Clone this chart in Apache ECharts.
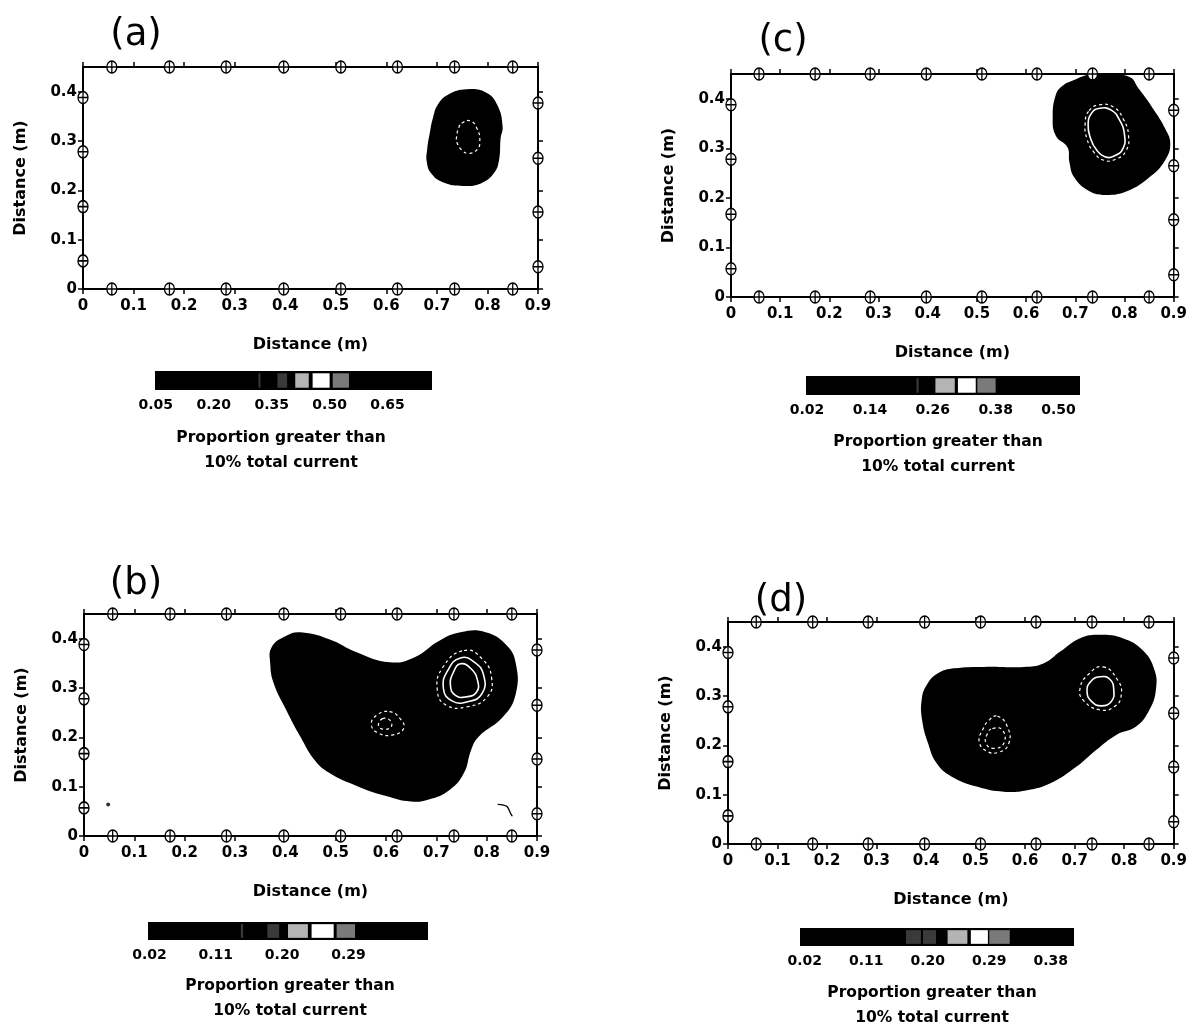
<!DOCTYPE html>
<html>
<head>
<meta charset="utf-8">
<script src="https://cdn.jsdelivr.net/npm/echarts@6/dist/echarts.min.js"></script>
<style>
  html, body { margin: 0; background: #fff; }
  #chart { width: 1190px; height: 1029px; }
</style>
</head>
<body>
<div id="chart"></div>
<script>
// ---- tick labels ----
var xTicks = [0, 0.1, 0.2, 0.3, 0.4, 0.5, 0.6, 0.7, 0.8, 0.9];
var yTicks = [0, 0.1, 0.2, 0.3, 0.4];

// ---- electrode positions (m) ----
var electrodeX = [0.057, 0.171, 0.283, 0.397, 0.510, 0.622, 0.735, 0.850];
var electrodeLeftY = [0.388, 0.278, 0.167, 0.057];
var electrodeRightY = [0.377, 0.265, 0.156, 0.045];

// ---- (a) outline of region > 0.05 and inner contour ----
var blobA = [[0.759, 0.405], [0.722, 0.394], [0.702, 0.374], [0.692, 0.346], [0.686, 0.316],
  [0.681, 0.285], [0.680, 0.258], [0.689, 0.234], [0.713, 0.216], [0.752, 0.209], [0.787, 0.214],
  [0.813, 0.235], [0.823, 0.262], [0.826, 0.305], [0.830, 0.330], [0.820, 0.372], [0.798, 0.398]];
var ringA = [[0.749, 0.336], [0.765, 0.341], [0.779, 0.326], [0.785, 0.299], [0.779, 0.282],
  [0.762, 0.275], [0.749, 0.282], [0.740, 0.296], [0.739, 0.309], [0.744, 0.329]];

// ---- (c) ----
var blobC = [[0.660, 0.407], [0.654, 0.366], [0.660, 0.326], [0.684, 0.302], [0.688, 0.272],
  [0.698, 0.241], [0.728, 0.214], [0.762, 0.206], [0.806, 0.214], [0.850, 0.241],
  [0.882, 0.275], [0.893, 0.309], [0.883, 0.339], [0.858, 0.380], [0.829, 0.420],
  [0.808, 0.445], [0.737, 0.450], [0.695, 0.437], [0.671, 0.424]];
var ringC = [[0.733, 0.371], [0.750, 0.381], [0.773, 0.377], [0.790, 0.357], [0.800, 0.327],
  [0.797, 0.300], [0.780, 0.285], [0.760, 0.283], [0.743, 0.297], [0.731, 0.320], [0.726, 0.347]];
var ringC2 = [[0.728, 0.376], [0.750, 0.388], [0.778, 0.383], [0.797, 0.360], [0.808, 0.327],
  [0.803, 0.295], [0.782, 0.278], [0.758, 0.276], [0.738, 0.292], [0.724, 0.318], [0.720, 0.350]];

// ---- (b) ----
var blobB = [[0.373, 0.383], [0.402, 0.406], [0.430, 0.413], [0.487, 0.399], [0.543, 0.372],
  [0.607, 0.352], [0.656, 0.362], [0.706, 0.396], [0.748, 0.413], [0.798, 0.413],
  [0.840, 0.386], [0.858, 0.349], [0.858, 0.289], [0.833, 0.242], [0.784, 0.201],
  [0.769, 0.174], [0.755, 0.128], [0.727, 0.094], [0.685, 0.074], [0.649, 0.070],
  [0.600, 0.081], [0.543, 0.101], [0.487, 0.128], [0.458, 0.154], [0.430, 0.201],
  [0.402, 0.255], [0.377, 0.309], [0.370, 0.349]];
var ringB1 = [[0.748, 0.349], [0.769, 0.339], [0.782, 0.315], [0.780, 0.292], [0.759, 0.282],
  [0.738, 0.285], [0.728, 0.305], [0.734, 0.332]];
var ringB2 = [[0.748, 0.361], [0.776, 0.352], [0.794, 0.326], [0.791, 0.289], [0.762, 0.272],
  [0.731, 0.274], [0.714, 0.299], [0.723, 0.336]];
var ringB3 = [[0.755, 0.376], [0.791, 0.359], [0.810, 0.319], [0.801, 0.282], [0.762, 0.262],
  [0.720, 0.265], [0.702, 0.295], [0.713, 0.342]];
var ringB4 = [[0.607, 0.252], [0.628, 0.238], [0.635, 0.218], [0.614, 0.205], [0.586, 0.208],
  [0.571, 0.225], [0.582, 0.245]];
var ringB5 = [[0.593, 0.238], [0.610, 0.232], [0.607, 0.218], [0.586, 0.221]];
var speckB = [[0.048, 0.064]];
var squiggleB = [[0.822, 0.064], [0.840, 0.060], [0.847, 0.047], [0.851, 0.040]];

// ---- (d) ----
var blobD = [[0.391, 0.292], [0.401, 0.322], [0.424, 0.346], [0.457, 0.356], [0.517, 0.359],
  [0.597, 0.359], [0.637, 0.366], [0.671, 0.390], [0.711, 0.417], [0.751, 0.424],
  [0.797, 0.417], [0.837, 0.393], [0.861, 0.353], [0.864, 0.312], [0.851, 0.272],
  [0.824, 0.238], [0.784, 0.221], [0.744, 0.191], [0.704, 0.157], [0.651, 0.123],
  [0.604, 0.109], [0.557, 0.106], [0.504, 0.116], [0.451, 0.137], [0.421, 0.164],
  [0.404, 0.204], [0.392, 0.251]];
var ringD1 = [[0.751, 0.339], [0.771, 0.334], [0.779, 0.312], [0.774, 0.289], [0.754, 0.280],
  [0.734, 0.289], [0.725, 0.309], [0.732, 0.329]];
var ringD2 = [[0.757, 0.359], [0.787, 0.332], [0.794, 0.302], [0.781, 0.279], [0.751, 0.272],
  [0.717, 0.292], [0.711, 0.316], [0.727, 0.343]];
var ringD3 = [[0.544, 0.259], [0.564, 0.238], [0.567, 0.204], [0.547, 0.186], [0.521, 0.189],
  [0.507, 0.209], [0.514, 0.231], [0.527, 0.251]];
var ringD4 = [[0.534, 0.234], [0.554, 0.231], [0.557, 0.204], [0.537, 0.194], [0.521, 0.204],
  [0.524, 0.224]];

// ---- colour bars: ticks, range, patterned cells [from, to, shade] ----
var cbTicksA = [0.05, 0.20, 0.35, 0.50, 0.65];
var cbRangeA = [0.048, 0.765];
var cbCellsA = [[0.316, 0.321, 1], [0.365, 0.390, 1], [0.411, 0.446, 2], [0.456, 0.500, 3], [0.508, 0.550, 4]];
var cbTicksC = [0.02, 0.14, 0.26, 0.38, 0.50];
var cbRangeC = [0.018, 0.541];
var cbCellsC = [[0.229, 0.233, 1], [0.265, 0.302, 2], [0.308, 0.342, 3], [0.345, 0.380, 4]];
var cbTicksB = [0.02, 0.11, 0.20, 0.29];
var cbRangeB = [0.018, 0.398];
var cbCellsB = [[0.144, 0.147, 1], [0.180, 0.196, 1], [0.208, 0.235, 2], [0.240, 0.270, 3], [0.274, 0.299, 4]];
var cbTicksD = [0.02, 0.11, 0.20, 0.29, 0.38];
var cbRangeD = [0.013, 0.414];
var cbCellsD = [[0.168, 0.190, 1], [0.193, 0.212, 1], [0.229, 0.258, 2], [0.263, 0.288, 3], [0.290, 0.320, 4]];

var shades = ['#000', '#3a3a3a', '#b4b4b4', '#ffffff', '#7a7a7a'];
var font = 'DejaVu Sans';

var panels = [
  { label: '(a)', blob: blobA, rings: [[ringA, true]], cbTicks: cbTicksA, cbRange: cbRangeA, cbCells: cbCellsA,
    grid: { left: 83, top: 67, width: 455, height: 222 }, cbGrid: { left: 155, top: 371, width: 277, height: 19 },
    title: [136, 35], caption: [281, 437] },
  { label: '(c)', blob: blobC, rings: [[ringC, false], [ringC2, true]], cbTicks: cbTicksC, cbRange: cbRangeC, cbCells: cbCellsC,
    grid: { left: 731, top: 74, width: 447, height: 223 }, cbGrid: { left: 806, top: 376, width: 274, height: 19 },
    title: [783, 41], caption: [938, 441] },
  { label: '(b)', blob: blobB, rings: [[ringB1, false], [ringB2, false], [ringB3, true], [ringB4, true], [ringB5, true]],
    cbTicks: cbTicksB, cbRange: cbRangeB, cbCells: cbCellsB,
    grid: { left: 84, top: 614, width: 453, height: 222 }, cbGrid: { left: 148, top: 922, width: 280, height: 18 },
    title: [136, 584], caption: [290, 985] },
  { label: '(d)', blob: blobD, rings: [[ringD1, false], [ringD2, true], [ringD3, true], [ringD4, true]],
    cbTicks: cbTicksD, cbRange: cbRangeD, cbCells: cbCellsD,
    grid: { left: 728, top: 622, width: 450, height: 222 }, cbGrid: { left: 800, top: 928, width: 274, height: 18 },
    title: [781, 601], caption: [932, 992] }
];

function fmt(v) { return v === 0 ? '0' : String(Math.round(v * 100) / 100); }

var electrodes = [];
electrodeX.forEach(function (x) { electrodes.push([x, 0.45]); electrodes.push([x, 0]); });
electrodeLeftY.forEach(function (y) { electrodes.push([0, y]); });
electrodeRightY.forEach(function (y) { electrodes.push([0.9, y]); });

var grids = [], xAxes = [], yAxes = [], series = [], graphics = [];
var lineBlack = { color: '#000', width: 2 };
var tickStyle = { color: '#000', width: 1.5 };
var labelStyle = { color: '#000', fontSize: 15, fontWeight: 'bold', fontFamily: font };
var nameStyle = { color: '#000', fontSize: 16, fontWeight: 'bold', fontFamily: font };

function poly(xi, yi, pts, style, smooth, z, closed) {
  return {
    type: 'custom', xAxisIndex: xi, yAxisIndex: yi, z: z, silent: true,
    data: [pts[0]],
    renderItem: function (params, api) {
      var p = pts.map(function (d) { return api.coord(d); });
      return { type: closed ? 'polygon' : 'polyline', shape: { points: p, smooth: smooth }, style: style };
    }
  };
}

panels.forEach(function (pn) {
  var gi = grids.length;
  grids.push(pn.grid);
  var xi = xAxes.length, yi = yAxes.length;
  xAxes.push({
    gridIndex: gi, type: 'value', min: 0, max: 0.9, position: 'bottom',
    axisLine: { onZero: false, lineStyle: lineBlack },
    axisTick: { length: 5, lineStyle: tickStyle, customValues: xTicks },
    axisLabel: Object.assign({ customValues: xTicks, formatter: fmt, margin: 10 }, labelStyle),
    splitLine: { show: false },
    name: 'Distance (m)', nameLocation: 'middle', nameGap: 48, nameTextStyle: nameStyle
  });
  xAxes.push({
    gridIndex: gi, type: 'value', min: 0, max: 0.9, position: 'top',
    axisLine: { onZero: false, lineStyle: lineBlack },
    axisTick: { length: 5, lineStyle: tickStyle, customValues: xTicks },
    axisLabel: { show: false }, splitLine: { show: false }
  });
  yAxes.push({
    gridIndex: gi, type: 'value', min: 0, max: 0.45, position: 'left',
    axisLine: { onZero: false, lineStyle: lineBlack },
    axisTick: { length: 5, lineStyle: tickStyle, customValues: yTicks },
    axisLabel: Object.assign({ customValues: yTicks, formatter: fmt, margin: 6 }, labelStyle),
    splitLine: { show: false },
    name: 'Distance (m)', nameLocation: 'middle', nameGap: 54, nameTextStyle: nameStyle
  });
  yAxes.push({
    gridIndex: gi, type: 'value', min: 0, max: 0.45, position: 'right',
    axisLine: { onZero: false, lineStyle: lineBlack },
    axisTick: { length: 5, lineStyle: tickStyle, customValues: yTicks },
    axisLabel: { show: false }, splitLine: { show: false }
  });

  series.push(poly(xi, yi, pn.blob, { fill: '#000' }, 0.45, 2, true));
  pn.rings.forEach(function (r) {
    series.push(poly(xi, yi, r[0], {
      fill: 'none', stroke: '#fff', lineWidth: r[1] ? 1.2 : 1.6, lineDash: r[1] ? [3, 3] : null
    }, 0.5, 3, true));
  });
  if (pn.label === '(b)') {
    series.push(poly(xi, yi, squiggleB, { fill: 'none', stroke: '#000', lineWidth: 1.3 }, 0.3, 3, false));
    series.push({ type: 'scatter', xAxisIndex: xi, yAxisIndex: yi, data: speckB, symbolSize: 4,
      itemStyle: { color: '#000' }, silent: true, z: 3 });
  }
  series.push({
    type: 'scatter', xAxisIndex: xi, yAxisIndex: yi, data: electrodes, clip: false, silent: true, z: 10,
    symbol: 'path://M5,0A5,5,0,1,1,5,10A5,5,0,1,1,5,0ZM0,5L10,5M5,0L5,10',
    symbolSize: [10, 12],
    itemStyle: { color: '#fff', borderColor: '#000', borderWidth: 1.4, opacity: 1 }
  });

  // colour bar
  var cg = grids.length;
  grids.push(Object.assign({ show: true, backgroundColor: '#000', borderWidth: 0 }, pn.cbGrid));
  var cx = xAxes.length, cy = yAxes.length;
  xAxes.push({
    gridIndex: cg, type: 'value', min: pn.cbRange[0], max: pn.cbRange[1], position: 'bottom',
    axisLine: { show: false }, axisTick: { show: false }, splitLine: { show: false },
    axisLabel: Object.assign({ customValues: pn.cbTicks, formatter: function (v) { return v.toFixed(2); }, margin: 8 },
      labelStyle, { fontSize: 14 })
  });
  yAxes.push({ gridIndex: cg, type: 'value', min: 0, max: 1, show: false });
  series.push({
    type: 'custom', xAxisIndex: cx, yAxisIndex: cy, silent: true, z: 2,
    data: pn.cbCells,
    renderItem: function (params, api) {
      var p0 = api.coord([api.value(0), 0.12]);
      var p1 = api.coord([api.value(1), 0.88]);
      return { type: 'rect', shape: { x: p0[0], y: p1[1], width: p1[0] - p0[0], height: p0[1] - p1[1] },
        style: { fill: shades[api.value(2)] } };
    }
  });

  graphics.push({ type: 'text', x: pn.title[0], y: pn.title[1],
    style: { text: pn.label, fontSize: 37, fontFamily: font, fill: '#000', align: 'center', verticalAlign: 'middle' } });
  graphics.push({ type: 'text', x: pn.caption[0], y: pn.caption[1] - 12,
    style: { text: 'Proportion greater than\n10% total current', fontSize: 15.5, fontWeight: 'bold', fontFamily: font,
      fill: '#000', align: 'center', verticalAlign: 'top', lineHeight: 25 } });
});

var chart = echarts.init(document.getElementById('chart'), null, { renderer: 'canvas' });
chart.setOption({
  animation: false,
  backgroundColor: '#fff',
  grid: grids,
  xAxis: xAxes,
  yAxis: yAxes,
  series: series,
  graphic: graphics
});
window.addEventListener('resize', function () { chart.resize(); });
</script>
</body>
</html>
